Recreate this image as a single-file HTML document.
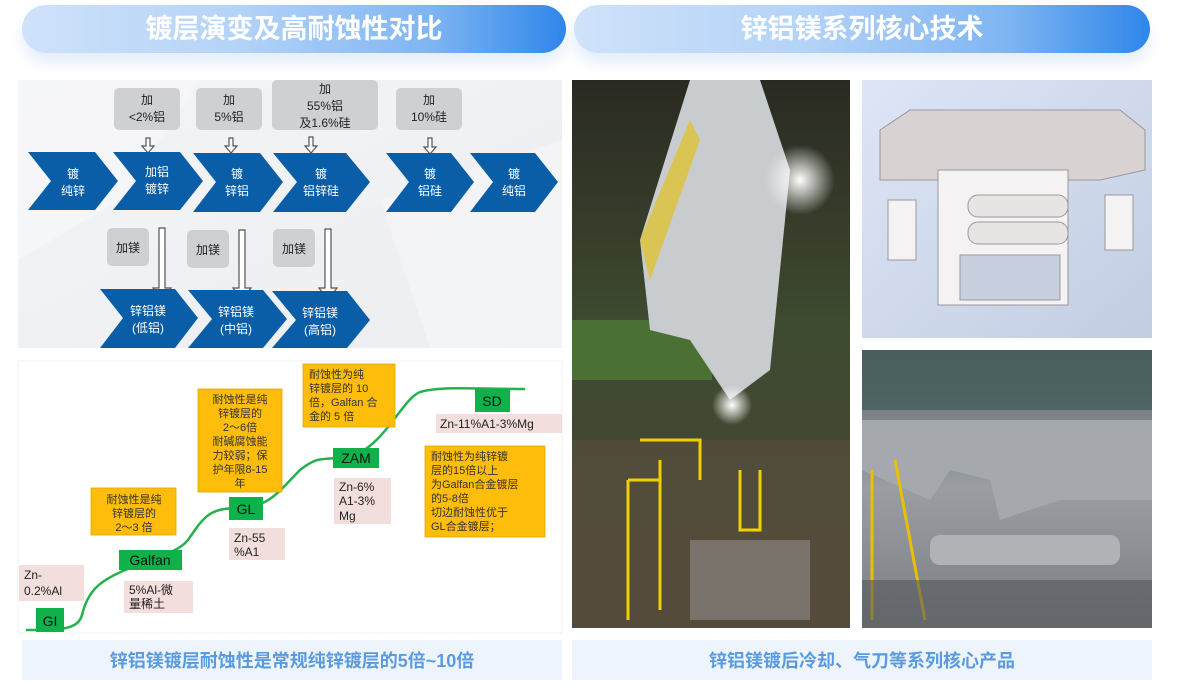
<!DOCTYPE html>
<html><head><meta charset="utf-8"><style>
html,body{margin:0;padding:0;background:#fff;}
body{width:1190px;height:686px;position:relative;overflow:hidden;font-family:"Liberation Sans","Noto Sans CJK SC",sans-serif;}
.hdr{position:absolute;top:5px;height:48px;border-radius:24px;background:linear-gradient(90deg,#cfe2fa 0%,#b4d3f7 40%,#7fb5f2 75%,#2f86ea 100%);color:#fff;font-weight:bold;font-size:27px;text-align:center;line-height:48px;box-shadow:0 10px 14px rgba(180,205,240,0.35);}
.cap{position:absolute;top:640px;height:40px;background:#eef4fb;color:#5a9be0;font-weight:bold;font-size:18px;text-align:center;line-height:42px;}
svg text{font-family:"Liberation Sans","Noto Sans CJK SC",sans-serif;}
</style></head><body>
<div class="hdr" style="left:22px;width:544px;">镀层演变及高耐蚀性对比</div>
<div class="hdr" style="left:574px;width:576px;">锌铝镁系列核心技术</div>

<svg width="1190" height="686" style="position:absolute;left:0;top:0" xmlns="http://www.w3.org/2000/svg">
<defs>
<linearGradient id="bg1" x1="0" y1="0" x2="1" y2="1"><stop offset="0" stop-color="#f3f4f6"/><stop offset="1" stop-color="#eceef1"/></linearGradient>
<linearGradient id="ph1" x1="0" y1="0" x2="0" y2="1"><stop offset="0" stop-color="#2a2a22"/><stop offset="0.45" stop-color="#3e4a30"/><stop offset="1" stop-color="#4a4438"/></linearGradient>
<linearGradient id="ph2" x1="0" y1="0" x2="1" y2="1"><stop offset="0" stop-color="#dde6f6"/><stop offset="1" stop-color="#c3cde2"/></linearGradient>
<linearGradient id="ph3" x1="0" y1="0" x2="0" y2="1"><stop offset="0" stop-color="#5d6a6a"/><stop offset="0.5" stop-color="#9a9ea3"/><stop offset="1" stop-color="#7a7d81"/></linearGradient>
<radialGradient id="lamp"><stop offset="0" stop-color="#fff"/><stop offset="1" stop-color="#fff" stop-opacity="0"/></radialGradient>
</defs>

<!-- top left diagram -->
<rect x="18" y="80" width="544" height="268" fill="url(#bg1)"/>
<polygon points="18,80 200,80 120,200 18,260" fill="#f8f9fa" opacity="0.6"/>
<polygon points="380,200 562,140 562,348 430,348" fill="#f6f7f9" opacity="0.6"/>
<g fill="#cfd0d2">
<rect x="114" y="88" width="66" height="42" rx="5"/>
<rect x="196" y="88" width="66" height="42" rx="5"/>
<rect x="272" y="80" width="106" height="50" rx="5"/>
<rect x="396" y="88" width="66" height="42" rx="5"/>
<rect x="107" y="228" width="42" height="38" rx="5"/>
<rect x="187" y="230" width="42" height="38" rx="5"/>
<rect x="273" y="229" width="42" height="38" rx="5"/>
</g>
<g font-size="12" fill="#222" text-anchor="middle">
<text x="147" y="104">加</text><text x="147" y="121">&lt;2%铝</text>
<text x="229" y="104">加</text><text x="229" y="121">5%铝</text>
<text x="325" y="93">加</text><text x="325" y="110">55%铝</text><text x="325" y="127">及1.6%硅</text>
<text x="429" y="104">加</text><text x="429" y="121">10%硅</text>
<text x="128" y="252">加镁</text><text x="208" y="254">加镁</text><text x="294" y="253">加镁</text>
</g>
<g fill="#fff" stroke="#555" stroke-width="1.2">
<path d="M146,138 h4 v8 h4 l-6,7 l-6,-7 h4z"/>
<path d="M229,138 h4 v8 h4 l-6,7 l-6,-7 h4z"/>
<path d="M309,137 h4 v9 h4 l-6,7 l-6,-7 h4z"/>
<path d="M428,138 h4 v9 h4 l-6,7 l-6,-7 h4z"/>
<path d="M159,228 h6 v60 h6 l-9,12 l-9,-12 h6z"/>
<path d="M239,230 h6 v58 h6 l-9,12 l-9,-12 h6z"/>
<path d="M325,229 h6 v59 h6 l-9,12 l-9,-12 h6z"/>
</g>
<g fill="#0a5ea8">
<polygon points="28,152 95,152 118,181 95,210 28,210 51,181"/>
<polygon points="113,152 180,152 203,181 180,210 113,210 136,181"/>
<polygon points="193,153 260,153 283,182 260,212 193,212 216,182"/>
<polygon points="273,153 346,153 370,182 346,212 273,212 297,182"/>
<polygon points="386,153 451,153 474,182 451,212 386,212 409,182"/>
<polygon points="470,153 535,153 558,182 535,212 470,212 493,182"/>
<polygon points="100,289 175,289 198,318 175,348 100,348 123,318"/>
<polygon points="188,290 263,290 287,319 263,348 188,348 212,319"/>
<polygon points="272,291 347,291 370,320 347,348 272,348 296,320"/>
</g>
<g font-size="12" fill="#fff" text-anchor="middle">
<text x="73" y="178">镀</text><text x="73" y="195">纯锌</text>
<text x="157" y="176">加铝</text><text x="157" y="193">镀锌</text>
<text x="237" y="178">镀</text><text x="237" y="195">锌铝</text>
<text x="321" y="178">镀</text><text x="321" y="195">铝锌硅</text>
<text x="430" y="178">镀</text><text x="430" y="195">铝硅</text>
<text x="514" y="178">镀</text><text x="514" y="195">纯铝</text>
<text x="148" y="315">锌铝镁</text><text x="148" y="332">(低铝)</text>
<text x="236" y="316">锌铝镁</text><text x="236" y="333">(中铝)</text>
<text x="320" y="317">锌铝镁</text><text x="320" y="334">(高铝)</text>
</g>

<!-- bottom left chart -->
<rect x="18" y="361" width="544" height="272" fill="#fff" stroke="#f0f0f0"/>
<path d="M26,630 C60,630 78,630 82,615 C88,590 100,580 130,568 C160,556 178,552 188,540 C205,515 210,508 240,508 C270,507 280,490 300,470 C315,458 320,459 340,458 C380,457 400,400 420,392 C440,386 470,389 525,389" fill="none" stroke="#22b14c" stroke-width="2.5"/>
<g fill="#f3dede">
<rect x="19" y="565" width="65" height="36"/>
<rect x="124" y="581" width="69" height="32"/>
<rect x="229" y="528" width="56" height="32"/>
<rect x="334" y="478" width="57" height="46"/>
<rect x="436" y="414" width="126" height="19"/>
</g>
<g fill="#fdbd0a" stroke="#e0a800" stroke-width="0.8">
<rect x="91" y="488" width="85" height="47"/>
<rect x="198" y="389" width="84" height="103"/>
<rect x="303" y="364" width="92" height="63"/>
<rect x="425" y="446" width="120" height="91"/>
</g>
<g fill="#0fb14b">
<rect x="36" y="608" width="28" height="24"/>
<rect x="119" y="550" width="63" height="20"/>
<rect x="229" y="497" width="34" height="23"/>
<rect x="333" y="448" width="46" height="20"/>
<rect x="475" y="389" width="35" height="23"/>
</g>
<g font-size="14" fill="#111" text-anchor="middle">
<text x="50" y="626">GI</text><text x="150" y="565">Galfan</text><text x="246" y="514">GL</text><text x="356" y="463">ZAM</text><text x="492" y="406">SD</text>
</g>
<g font-size="12" fill="#222">
<text x="24" y="579">Zn-</text><text x="24" y="595">0.2%Al</text>
<text x="129" y="594">5%Al-微</text><text x="129" y="608">量稀土</text>
<text x="234" y="542">Zn-55</text><text x="234" y="556">%A1</text>
<text x="339" y="491">Zn-6%</text><text x="339" y="505">A1-3%</text><text x="339" y="520">Mg</text>
<text x="440" y="428">Zn-11%A1-3%Mg</text>
</g>
<g font-size="11" fill="#333" text-anchor="middle">
<text x="134" y="503">耐蚀性是纯</text><text x="134" y="517">锌镀层的</text><text x="134" y="531">2～3 倍</text>
<text x="240" y="403">耐蚀性是纯</text><text x="240" y="417">锌镀层的</text><text x="240" y="431">2～6倍</text><text x="240" y="445">耐碱腐蚀能</text><text x="240" y="459">力较弱；保</text><text x="240" y="473">护年限8-15</text><text x="240" y="487">年</text>
</g>
<g font-size="11" fill="#333">
<text x="309" y="378">耐蚀性为纯</text><text x="309" y="392">锌镀层的 10</text><text x="309" y="406">倍，Galfan 合</text><text x="309" y="420">金的 5 倍</text>
<text x="431" y="460">耐蚀性为纯锌镀</text><text x="431" y="474">层的15倍以上</text><text x="431" y="488">为Galfan合金镀层</text><text x="431" y="502">的5-8倍</text><text x="431" y="516">切边耐蚀性优于</text><text x="431" y="530">GL合金镀层；</text>
</g>

<!-- photo 1 -->
<rect x="572" y="80" width="278" height="548" fill="url(#ph1)"/>
<rect x="572" y="320" width="140" height="60" fill="#4e7a35" opacity="0.8"/>
<polygon points="690,80 760,80 790,170 770,370 730,400 690,340 650,330 640,240" fill="#c9cccf"/>
<polygon points="640,240 690,120 700,140 650,280" fill="#e0c020" opacity="0.7"/>
<circle cx="800" cy="180" r="35" fill="url(#lamp)"/>
<circle cx="732" cy="405" r="20" fill="url(#lamp)"/>
<rect x="572" y="440" width="278" height="188" fill="#5c5040" opacity="0.6"/>
<g stroke="#f2d000" stroke-width="3" fill="none"><path d="M628,480 v140 M660,460 v150 M628,480 h32 M640,440 h60 v40"/><path d="M740,470 v60 h20 v-60"/></g>
<rect x="690" y="540" width="120" height="80" fill="#8a8580" opacity="0.7"/>
<!-- photo 2 -->
<rect x="862" y="80" width="290" height="258" fill="url(#ph2)"/>
<polygon points="880,130 910,110 1120,110 1145,130 1145,170 1100,180 880,180" fill="#d9d2d2" stroke="#999"/>
<rect x="938" y="170" width="130" height="135" fill="#f4f2f2" stroke="#999"/>
<rect x="968" y="195" width="100" height="22" rx="10" fill="#e8e4e4" stroke="#999"/>
<rect x="968" y="222" width="100" height="22" rx="10" fill="#e8e4e4" stroke="#999"/>
<rect x="960" y="255" width="100" height="45" fill="#c8d0e0" stroke="#999"/>
<rect x="888" y="200" width="28" height="60" fill="#f4f2f2" stroke="#999"/>
<rect x="1105" y="195" width="28" height="55" fill="#f4f2f2" stroke="#999"/>
<!-- photo 3 -->
<rect x="862" y="350" width="290" height="278" fill="url(#ph3)"/>
<rect x="862" y="350" width="290" height="60" fill="#3e5a58" opacity="0.7"/>
<polygon points="862,420 1152,420 1152,500 1060,500 1000,520 990,480 950,470 930,500 862,470" fill="#a5a8ac"/>
<rect x="930" y="535" width="190" height="30" rx="10" fill="#b0b3b6"/>
<g stroke="#e8c000" stroke-width="3" fill="none"><path d="M872,470 v150 M895,460 l30,160"/></g>
<rect x="862" y="580" width="290" height="48" fill="#55585c" opacity="0.6"/>
</svg>

<div class="cap" style="left:22px;width:540px;">锌铝镁镀层耐蚀性是常规纯锌镀层的5倍~10倍</div>
<div class="cap" style="left:572px;width:580px;">锌铝镁镀后冷却、气刀等系列核心产品</div>
</body></html>
